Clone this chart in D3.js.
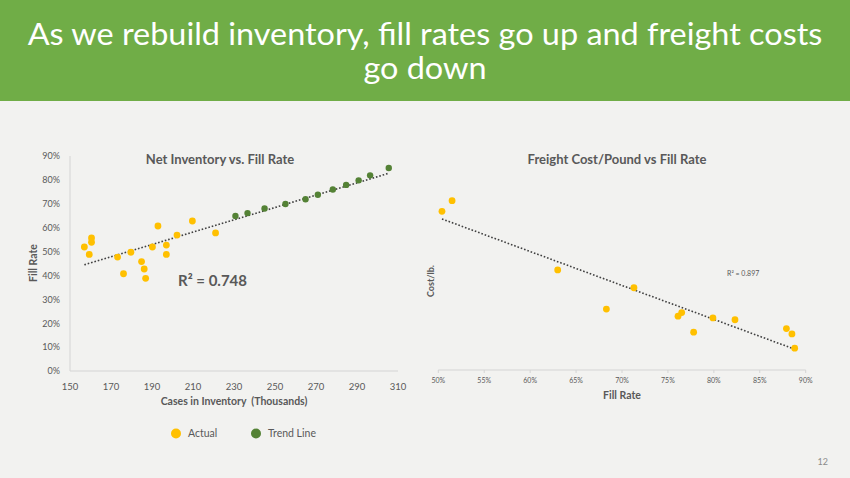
<!DOCTYPE html>
<html>
<head>
<meta charset="utf-8">
<script src="https://cdn.jsdelivr.net/npm/d3@7"></script>
<style>
  html, body { margin: 0; padding: 0; background: #f2f2f0; }
  svg { display: block; }
</style>
</head>
<body>
<div id="chart"></div>
<script>
// Net Inventory vs. Fill Rate (cases in thousands, fill rate)
const actualCases = [157, 159.4, 160.5, 160.5, 173.2, 176.1, 179.7, 184.9, 186.2, 186.9, 190.2, 192.9, 197, 197, 202.2, 209.7, 221];
const actualFill = [0.519, 0.488, 0.557, 0.539, 0.477, 0.407, 0.497, 0.458, 0.427, 0.388, 0.519, 0.607, 0.527, 0.488, 0.569, 0.628, 0.578];
const trendCases = [230.7, 236.6, 244.9, 255.1, 264.9, 270.9, 278.2, 284.7, 290.8, 296.4, 305.5];
const trendFill = [0.649, 0.661, 0.680, 0.699, 0.719, 0.738, 0.760, 0.779, 0.798, 0.819, 0.850];
const caseTicks = [150, 170, 190, 210, 230, 250, 270, 290, 310];
const fillTicks = [0, 0.1, 0.2, 0.3, 0.4, 0.5, 0.6, 0.7, 0.8, 0.9];

// Freight Cost/Pound vs Fill Rate
const freightFill = [0.504, 0.515, 0.630, 0.683, 0.713, 0.761, 0.765, 0.778, 0.799, 0.823, 0.879, 0.885, 0.888];
const freightCost = [0.089, 0.095, 0.056, 0.034, 0.046, 0.030, 0.032, 0.021, 0.029, 0.028, 0.023, 0.020, 0.012];
const fillRateTicks = [0.5, 0.55, 0.6, 0.65, 0.7, 0.75, 0.8, 0.85, 0.9];

const W = 850, H = 478;
const grey = '#595959';
const yellow = '#ffc000';
const green = '#548235';
const font = 'Lato, "Open Sans", sans-serif';

const svg = d3.select('#chart').append('svg')
  .attr('width', W)
  .attr('height', H);

svg.append('rect').attr('width', W).attr('height', H).attr('fill', '#f2f2f0');

// header band
svg.append('rect').attr('width', W).attr('height', 101).attr('fill', '#70ad47');

const head = svg.append('g')
  .attr('fill', '#fff')
  .attr('font-family', font)
  .attr('font-size', 30.5)
  .attr('text-anchor', 'middle');
const line1 = head.append('text').attr('x', 0).attr('y', 45)
  .text('As we rebuild inventory, fill rates go up and freight costs');
head.append('text').attr('x', 0).attr('y', 79).text('go down');
const natural = line1.node().getComputedTextLength();
head.attr('transform', `translate(${W / 2},0) scale(${795 / natural},1)`);

// least squares fit
function fit(xs, ys) {
  const mx = d3.mean(xs), my = d3.mean(ys);
  let sxy = 0, sxx = 0;
  xs.forEach((x, i) => { sxy += (x - mx) * (ys[i] - my); sxx += (x - mx) * (x - mx); });
  const b = sxy / sxx;
  return x => my + b * (x - mx);
}

const trendStyle = (sel) => sel
  .attr('stroke', '#404040')
  .attr('stroke-width', 1.6)
  .attr('stroke-dasharray', '1.6,1.9')
  .attr('fill', 'none');

// ---------- left chart ----------
const xL = d3.scaleLinear().domain([150, 310]).range([70, 398]);
const yL = d3.scaleLinear().domain([0, 0.9]).range([371, 156]);

const left = svg.append('g').attr('font-family', font);

left.append('line')
  .attr('x1', xL(150)).attr('x2', xL(150))
  .attr('y1', yL(0.9)).attr('y2', yL(0))
  .attr('stroke', '#d4d4d4');
left.append('line')
  .attr('x1', xL(150)).attr('x2', xL(310))
  .attr('y1', yL(0)).attr('y2', yL(0))
  .attr('stroke', '#d4d4d4');

left.selectAll('.ytick').data(fillTicks).enter()
  .append('text')
  .attr('x', 60)
  .attr('y', d => yL(d) + 3.3)
  .attr('text-anchor', 'end')
  .attr('font-size', 9)
  .attr('fill', grey)
  .text(d3.format('.0%'));

left.selectAll('.xtick').data(caseTicks).enter()
  .append('text')
  .attr('x', d => xL(d))
  .attr('y', 390)
  .attr('text-anchor', 'middle')
  .attr('font-size', 9.5)
  .attr('fill', grey)
  .text(d => d);

const allCases = actualCases.concat(trendCases);
const allFill = actualFill.concat(trendFill);
const fL = fit(allCases, allFill);
const extL = d3.extent(allCases);
left.append('line')
  .attr('x1', xL(extL[0])).attr('y1', yL(fL(extL[0])))
  .attr('x2', xL(extL[1])).attr('y2', yL(fL(extL[1])))
  .call(trendStyle);

left.selectAll('.actual').data(actualCases).enter()
  .append('circle')
  .attr('cx', d => xL(d))
  .attr('cy', (d, i) => yL(actualFill[i]))
  .attr('r', 3.4)
  .attr('fill', yellow);

left.selectAll('.trend').data(trendCases).enter()
  .append('circle')
  .attr('cx', d => xL(d))
  .attr('cy', (d, i) => yL(trendFill[i]))
  .attr('r', 3.2)
  .attr('fill', green);

left.append('text')
  .attr('x', 220).attr('y', 164)
  .attr('text-anchor', 'middle')
  .attr('font-size', 13).attr('font-weight', 700)
  .attr('fill', grey)
  .text('Net Inventory vs. Fill Rate');

left.append('text')
  .attr('x', 234).attr('y', 405)
  .attr('text-anchor', 'middle')
  .attr('font-size', 10.5).attr('font-weight', 700)
  .attr('fill', grey)
  .attr('xml:space', 'preserve')
  .text('Cases in Inventory  (Thousands)');

left.append('text')
  .attr('transform', 'translate(37,263) rotate(-90)')
  .attr('text-anchor', 'middle')
  .attr('font-size', 10.5).attr('font-weight', 700)
  .attr('fill', grey)
  .text('Fill Rate');

left.append('text')
  .attr('x', 178).attr('y', 286)
  .attr('font-size', 15).attr('font-weight', 700)
  .attr('fill', grey)
  .text('R² = 0.748');

// legend
const legend = svg.append('g').attr('font-family', font).attr('font-size', 10.5).attr('fill', grey);
[['Actual', yellow, 176], ['Trend Line', green, 256]].forEach(([label, c, x]) => {
  legend.append('circle').attr('cx', x).attr('cy', 433.5).attr('r', 5).attr('fill', c);
  legend.append('text').attr('x', x + 12).attr('y', 437).text(label);
});

// ---------- right chart ----------
const xR = d3.scaleLinear().domain([0.5, 0.9]).range([438.3, 805.7]);
const yR = d3.scaleLinear().domain([0, 0.12]).range([369.5, 156.2]);

const right = svg.append('g').attr('font-family', font);

right.append('line')
  .attr('x1', xR(0.5)).attr('x2', xR(0.9))
  .attr('y1', 370).attr('y2', 370)
  .attr('stroke', '#d4d4d4');
right.selectAll('.tick').data(fillRateTicks).enter()
  .append('line')
  .attr('x1', d => xR(d)).attr('x2', d => xR(d))
  .attr('y1', 370).attr('y2', 373)
  .attr('stroke', '#d4d4d4');
right.selectAll('.xlab').data(fillRateTicks).enter()
  .append('text')
  .attr('x', d => xR(d))
  .attr('y', 383)
  .attr('text-anchor', 'middle')
  .attr('font-size', 7)
  .attr('fill', grey)
  .text(d3.format('.0%'));

const fR = fit(freightFill, freightCost);
const extR = d3.extent(freightFill);
right.append('line')
  .attr('x1', xR(extR[0])).attr('y1', yR(fR(extR[0])))
  .attr('x2', xR(extR[1])).attr('y2', yR(fR(extR[1])))
  .call(trendStyle);

right.selectAll('.pt').data(freightFill).enter()
  .append('circle')
  .attr('cx', d => xR(d))
  .attr('cy', (d, i) => yR(freightCost[i]))
  .attr('r', 3.4)
  .attr('fill', yellow);

right.append('text')
  .attr('x', 617).attr('y', 164)
  .attr('text-anchor', 'middle')
  .attr('font-size', 13).attr('font-weight', 700)
  .attr('fill', grey)
  .text('Freight Cost/Pound vs Fill Rate');

right.append('text')
  .attr('x', 622).attr('y', 399)
  .attr('text-anchor', 'middle')
  .attr('font-size', 10.5).attr('font-weight', 700)
  .attr('fill', grey)
  .text('Fill Rate');

right.append('text')
  .attr('transform', 'translate(434,281) rotate(-90)')
  .attr('text-anchor', 'middle')
  .attr('font-size', 9).attr('font-weight', 700)
  .attr('fill', grey)
  .text('Cost/lb.');

right.append('text')
  .attr('x', 727).attr('y', 275.5)
  .attr('font-size', 7)
  .attr('fill', grey)
  .text('R² = 0.897');

// page number
svg.append('text')
  .attr('x', 828).attr('y', 465)
  .attr('text-anchor', 'end')
  .attr('font-family', font)
  .attr('font-size', 9)
  .attr('fill', '#8c8c8c')
  .text('12');
</script>
</body>
</html>
